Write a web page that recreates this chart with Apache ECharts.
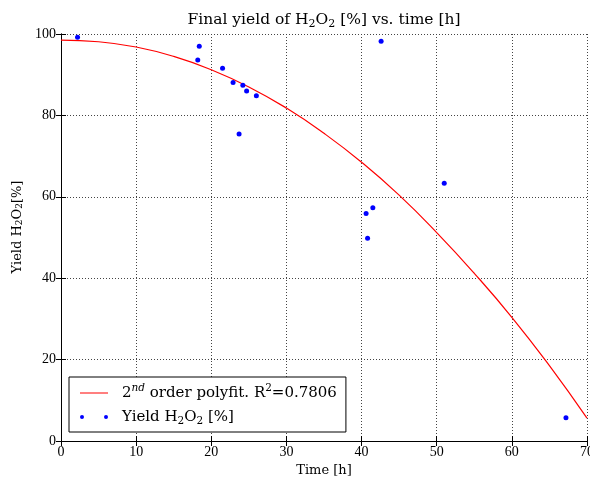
<!DOCTYPE html>
<html>
<head>
<meta charset="utf-8">
<script src="https://cdn.jsdelivr.net/npm/echarts@6/dist/echarts.min.js"></script>
<style>html,body{margin:0;padding:0;background:#fff}#c{width:590px;height:477px}</style>
</head>
<body>
<div id="c"></div>
<script>
// Polyfit curve
const fitX = [0, 5, 10, 15, 20, 25, 30, 35, 40, 45, 50, 55, 60, 65, 70];
const fitY = [98.5, 98.1, 96.8, 94.5, 91.2, 87.0, 81.8, 75.6, 68.5, 60.4, 51.2, 41.2, 30.4, 18.5, 5.6];
// Measured points
const timeH = [2.2, 18.4, 18.2, 21.5, 22.9, 24.2, 24.7, 26.0, 23.7, 42.6, 51.0, 41.5, 40.6, 40.8, 67.2];
const yieldPct = [99.2, 97.0, 93.6, 91.6, 88.1, 87.4, 86.0, 84.8, 75.4, 98.2, 63.3, 57.3, 55.9, 49.8, 5.7];
// Ticks
const xTicks = [0, 10, 20, 30, 40, 50, 60, 70];
const yTicks = [0, 20, 40, 60, 80, 100];

const FONT = '"DejaVu Serif", "Liberation Serif", serif';
const TICKFONT = '"Liberation Serif", serif';
const fitName = '2nd order polyfit. R2=0.7806';
const dataName = 'Yield H2O2 [%]';

const chart = echarts.init(document.getElementById('c'), null, {renderer: 'canvas'});

const gridLine = {show: true, lineStyle: {color: '#444', width: 1, type: [1, 2]}};
const baseX = {
  type: 'value', min: xTicks[0], max: xTicks[xTicks.length - 1], interval: xTicks[1] - xTicks[0],
  axisLine: {show: true, lineStyle: {color: '#000', width: 1}},
  axisTick: {show: true, inside: true, length: 5, lineStyle: {color: '#000'}}
};
const baseY = {
  type: 'value', min: yTicks[0], max: yTicks[yTicks.length - 1], interval: yTicks[1] - yTicks[0],
  axisLine: {show: true, lineStyle: {color: '#000', width: 1}},
  axisTick: {show: true, inside: true, length: 5, lineStyle: {color: '#000'}}
};

const subRich = {
  sub: {fontFamily: FONT, fontSize: 10.5, color: '#000', verticalAlign: 'bottom', lineHeight: 10},
  sup: {fontFamily: FONT, fontSize: 10.5, color: '#000', verticalAlign: 'top', lineHeight: 10, fontStyle: 'italic'},
  supn: {fontFamily: FONT, fontSize: 10.5, color: '#000', verticalAlign: 'top', lineHeight: 10}
};

chart.setOption({
  animation: false,
  backgroundColor: '#fff',
  title: {
    text: 'Final yield of H{tsub|2}O{tsub|2} [%] vs. time [h]',
    left: 324, top: 10, textAlign: 'center', padding: 0,
    textStyle: {
      fontFamily: FONT, fontSize: 15.5, fontWeight: 'normal', color: '#000', lineHeight: 20,
      rich: {tsub: {fontFamily: FONT, fontSize: 11, color: '#000', verticalAlign: 'bottom', lineHeight: 11}}
    }
  },
  grid: {left: 61, right: 3, top: 34, bottom: 36, containLabel: false, outerBoundsMode: 'none'},
  legend: {
    orient: 'vertical', left: 69, top: 377,
    padding: [6, 9, 5, 11], itemGap: 4,
    itemWidth: 28, itemHeight: 4,
    backgroundColor: '#fff', borderColor: '#000', borderWidth: 1, borderRadius: 0,
    data: [
      {name: fitName, icon: 'path://M0,0L0.001,0ZM0,1.4L28,1.4L28,2.6L0,2.6ZM0,4L0.001,4Z'},
      {name: dataName, icon: 'path://M0,2A2,2,0,1,1,4,2A2,2,0,1,1,0,2ZM24,2A2,2,0,1,1,28,2A2,2,0,1,1,24,2Z'}
    ],
    formatter: function (n) {
      if (n === fitName) return '2{sup|nd} order polyfit. R{supn|2}=0.7806';
      return 'Yield H{sub|2}O{sub|2} [%]';
    },
    textStyle: {fontFamily: FONT, fontSize: 15, color: '#000', lineHeight: 20, padding: [0, 0, 0, 9], rich: subRich}
  },
  xAxis: [
    Object.assign({}, baseX, {
      position: 'bottom',
      axisLabel: {color: '#000', fontFamily: TICKFONT, fontSize: 14, margin: 4},
      splitLine: gridLine
    }),
    Object.assign({}, baseX, {position: 'top', axisLabel: {show: false}, splitLine: {show: false}})
  ],
  yAxis: [
    Object.assign({}, baseY, {
      position: 'left',
      axisLabel: {color: '#000', fontFamily: TICKFONT, fontSize: 14, margin: 5},
      splitLine: gridLine
    }),
    Object.assign({}, baseY, {position: 'right', axisLabel: {show: false}, splitLine: {show: false}})
  ],
  graphic: [
    {
      type: 'text', x: 324, y: 471,
      style: {text: 'Time [h]', font: '13px ' + FONT, fill: '#000', align: 'center', verticalAlign: 'middle'}
    },
    {
      type: 'text', x: 18, y: 227, rotation: Math.PI / 2,
      style: {
        text: 'Yield H{s|2}O{s|2}[%]', font: '13px ' + FONT, fill: '#000', align: 'center', verticalAlign: 'middle',
        rich: {s: {font: '9px ' + FONT, fill: '#000', verticalAlign: 'bottom', lineHeight: 9}}
      }
    }
  ],
  series: [
    {
      name: fitName, type: 'line', xAxisIndex: 0, yAxisIndex: 0,
      data: fitX.map((x, i) => [x, fitY[i]]),
      smooth: true, symbol: 'none', showSymbol: false,
      lineStyle: {color: '#ff0000', width: 1.2}, itemStyle: {color: '#ff0000'}, z: 2
    },
    {
      name: dataName, type: 'scatter', xAxisIndex: 0, yAxisIndex: 0,
      data: timeH.map((x, i) => [x, yieldPct[i]]),
      symbol: 'circle', symbolSize: 5,
      itemStyle: {color: '#0000ff', opacity: 1}, z: 3
    }
  ]
});
</script>
</body>
</html>
